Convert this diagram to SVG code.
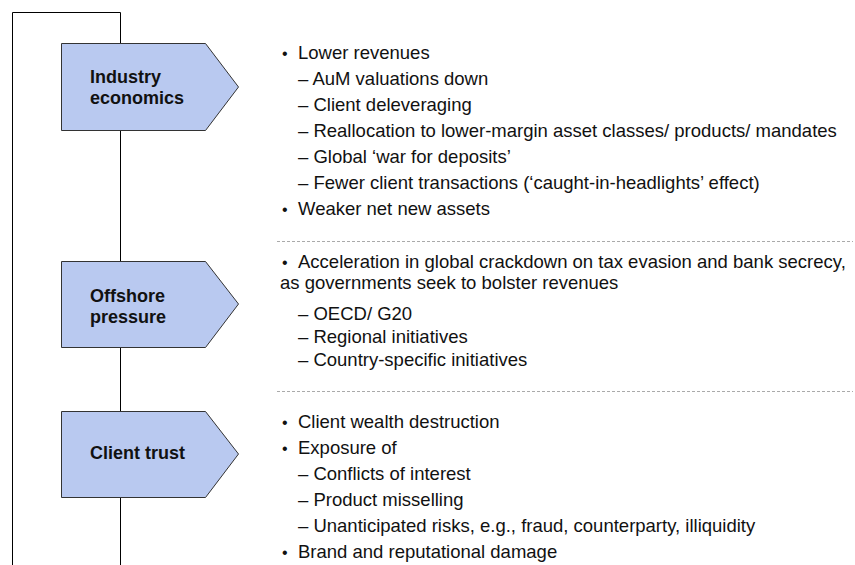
<svg xmlns="http://www.w3.org/2000/svg" width="855" height="565" viewBox="0 0 855 565">
  <style>
    .frame { fill: none; stroke: #000; stroke-width: 1; }
    .chev { fill: #b9c9f0; stroke: #333; stroke-width: 1; }
    .lbl { font-family: "Liberation Sans", Arial, sans-serif; font-size: 18px; font-weight: bold; fill: #111; }
    .txt { font-family: "Liberation Sans", Arial, sans-serif; font-size: 18.5px; fill: #111; }
    .dot { font-size: 16px; }
    .sep { stroke: #aaa; stroke-width: 1; stroke-dasharray: 3 2; fill: none; }
  </style>

  <!-- spine bracket and section separators -->
  <g id="connectors">
    <path class="frame" d="M12.5 565 V12.5 H120.5 V565"/>
    <line class="sep" x1="277" y1="241.5" x2="853" y2="241.5"/>
    <line class="sep" x1="277" y1="391.5" x2="853" y2="391.5"/>
  </g>

  <!-- section 1 -->
  <g id="industry-economics">
    <path class="chev" d="M61.5 43.5 H205.5 L238.5 87 L205.5 130.5 H61.5 Z"/>
    <text class="lbl" x="90" y="83">Industry</text>
    <text class="lbl" x="90" y="104">economics</text>
    <g class="txt">
      <text class="dot" x="282" y="59">•</text><text x="298" y="59">Lower revenues</text>
      <text x="298" y="85">– AuM valuations down</text>
      <text x="298" y="111">– Client deleveraging</text>
      <text x="298" y="137">– Reallocation to lower-margin asset classes/ products/ mandates</text>
      <text x="298" y="163">– Global ‘war for deposits’</text>
      <text x="298" y="189">– Fewer client transactions (‘caught-in-headlights’ effect)</text>
      <text class="dot" x="282" y="215">•</text><text x="298" y="215">Weaker net new assets</text>
    </g>
  </g>

  <!-- section 2 -->
  <g id="offshore-pressure">
    <path class="chev" d="M61.5 261.5 H205.5 L238.5 304 L205.5 347.5 H61.5 Z"/>
    <text class="lbl" x="90" y="302">Offshore</text>
    <text class="lbl" x="90" y="323">pressure</text>
    <g class="txt">
      <text class="dot" x="282" y="268">•</text><text x="298" y="268">Acceleration in global crackdown on tax evasion and bank secrecy,</text>
      <text x="280" y="289">as governments seek to bolster revenues</text>
      <text x="298" y="320">– OECD/ G20</text>
      <text x="298" y="343">– Regional initiatives</text>
      <text x="298" y="366">– Country-specific initiatives</text>
    </g>
  </g>

  <!-- section 3 -->
  <g id="client-trust">
    <path class="chev" d="M61.5 411.5 H205.5 L238.5 454 L205.5 497.5 H61.5 Z"/>
    <text class="lbl" x="90" y="459">Client trust</text>
    <g class="txt">
      <text class="dot" x="282" y="428">•</text><text x="298" y="428">Client wealth destruction</text>
      <text class="dot" x="282" y="454">•</text><text x="298" y="454">Exposure of</text>
      <text x="298" y="480">– Conflicts of interest</text>
      <text x="298" y="506">– Product misselling</text>
      <text x="298" y="532">– Unanticipated risks, e.g., fraud, counterparty, illiquidity</text>
      <text class="dot" x="282" y="558">•</text><text x="298" y="558">Brand and reputational damage</text>
    </g>
  </g>
</svg>
